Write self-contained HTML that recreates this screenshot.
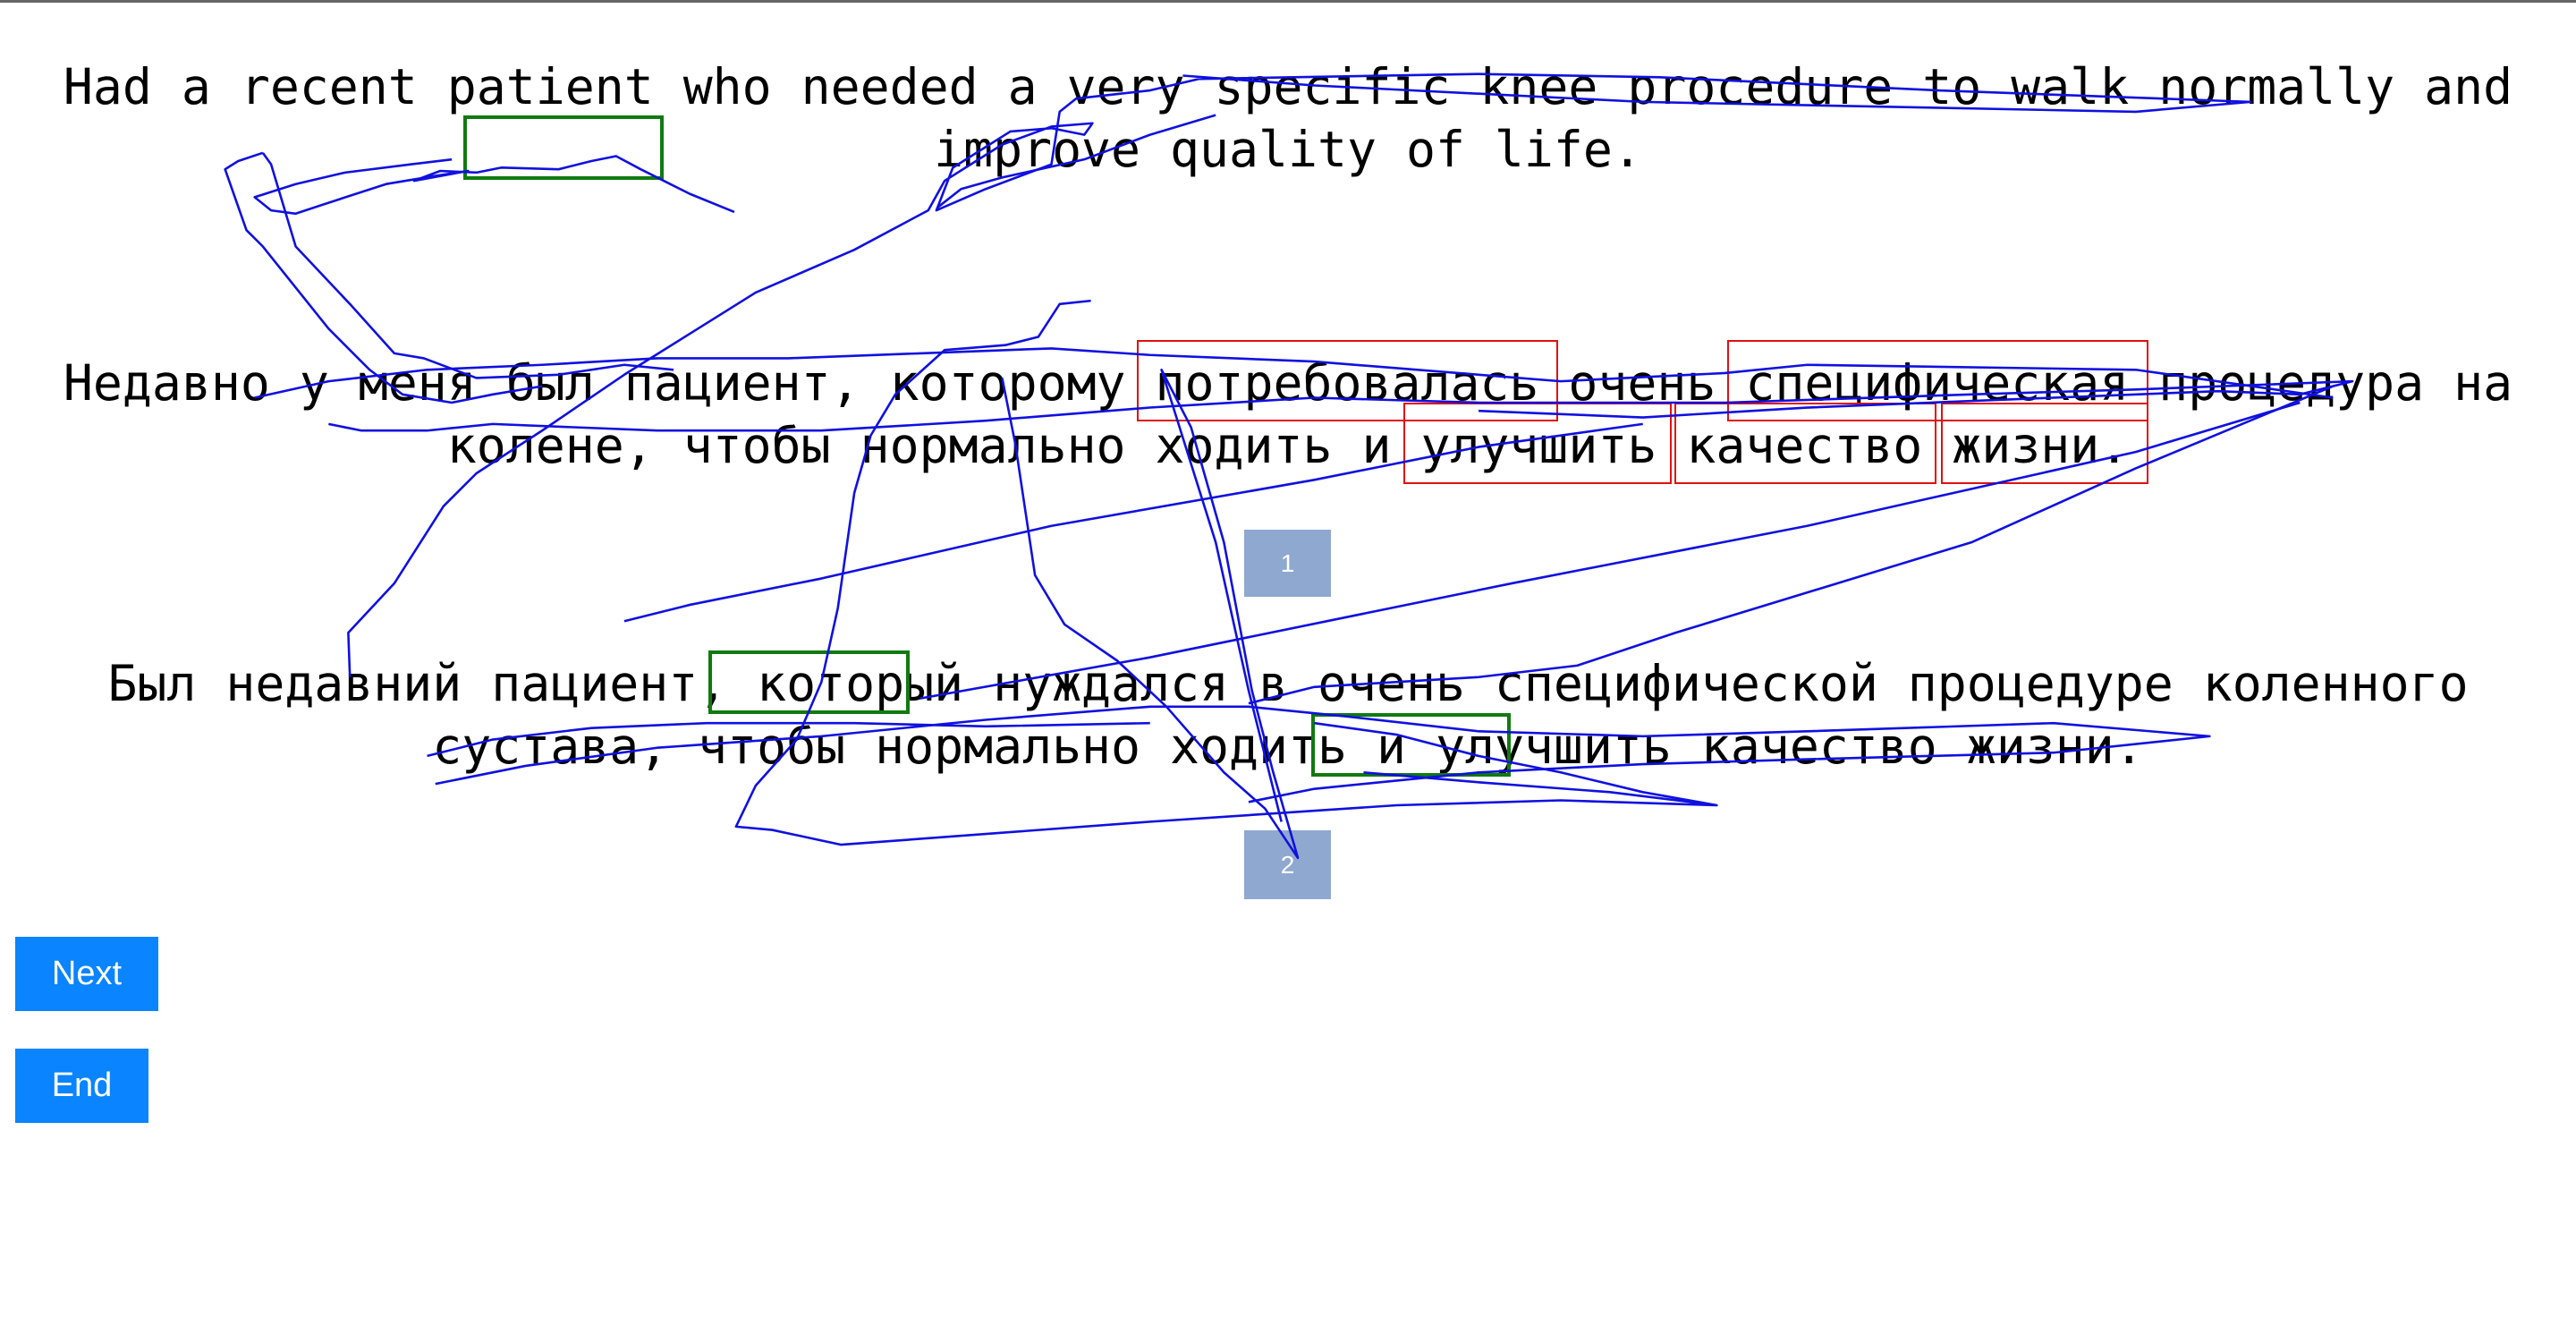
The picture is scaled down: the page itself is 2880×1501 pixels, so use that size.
<!DOCTYPE html>
<html><head><meta charset="utf-8"><style>
html,body{margin:0;padding:0;background:#fff;}
body{width:2880px;height:1501px;position:relative;overflow:hidden;}
.top{position:absolute;left:0;top:0;width:2880px;height:3px;background:#666;}
.t{position:absolute;left:0;width:2880px;text-align:center;font-family:"DejaVu Sans Mono","Liberation Mono",monospace;font-size:54.8px;color:#000;white-space:pre;line-height:70px;}
.b{position:absolute;box-sizing:border-box;}
.g{border:4px solid #107a10;}
.r{border:2.5px solid #e01010;}
.sq{position:absolute;background:#8fa8d0;color:#fff;font-family:"Liberation Sans",sans-serif;font-size:28px;text-align:center;}
.btn{position:absolute;background:#0a84ff;color:#fff;font-family:"Liberation Sans",sans-serif;font-size:38px;text-align:center;}
svg{position:absolute;left:0;top:0;}
</style></head><body>
<div class="top"></div>
<div class="t" style="top:62px">Had a recent patient who needed a very specific knee procedure to walk normally and</div>
<div class="t" style="top:132px">improve quality of life.</div>
<div class="t" style="top:393px">Недавно у меня был пациент, которому потребовалась очень специфическая процедура на</div>
<div class="t" style="top:463px">колене, чтобы нормально ходить и улучшить качество жизни.</div>
<div class="t" style="top:729px">Был недавний пациент, который нуждался в очень специфической процедуре коленного</div>
<div class="t" style="top:799px">сустава, чтобы нормально ходить и улучшить качество жизни.</div>

<div class="b g" style="left:518px;top:129px;width:224px;height:72px"></div>
<div class="b g" style="left:792px;top:727px;width:225px;height:71px"></div>
<div class="b g" style="left:1466px;top:797px;width:223px;height:71px"></div>
<div class="b r" style="left:1271px;top:380px;width:471px;height:91px"></div>
<div class="b r" style="left:1931px;top:380px;width:471px;height:91px"></div>
<div class="b r" style="left:1569px;top:450px;width:300px;height:91px"></div>
<div class="b r" style="left:1872px;top:450px;width:293px;height:91px"></div>
<div class="b r" style="left:2170px;top:450px;width:232px;height:91px"></div>

<div class="sq" style="left:1391px;top:592px;width:97px;height:75px;line-height:75px">1</div>
<div class="sq" style="left:1391px;top:928px;width:97px;height:77px;line-height:77px">2</div>

<div class="btn" style="left:17px;top:1047px;width:160px;height:83px;line-height:83px">Next</div>
<div class="btn" style="left:17px;top:1172px;width:149px;height:83px;line-height:83px">End</div>

<svg width="2880" height="1501" viewBox="0 0 1568 817.2" preserveAspectRatio="none">
<g fill="none" stroke="#1010e0" stroke-width="2.6" stroke-linejoin="round">
<path vector-effect="non-scaling-stroke" d="M447,129 L420,118 L404,110 L390,103 L375,95 L360,98 L340,103 L305,102 L290,105 L268,104 L252,110 L285,104 L265,107 L235,112 L195,125 L180,130 L165,128 L155,120 L180,112 L210,105 L250,100 L275,97"/>
<path vector-effect="non-scaling-stroke" d="M160,93 L145,98 L137,103 L150,140 L160,150 L200,200 L225,225 L245,240 L275,245 L300,240 L330,235"/>
<path vector-effect="non-scaling-stroke" d="M160,93 L165,100 L180,150 L213,185 L240,215 L258,218 L290,230 L340,228 L380,222 L410,225"/>
<path vector-effect="non-scaling-stroke" d="M213,412 L212,385 L240,355 L270,308 L290,288 L330,262 L380,228 L460,178 L520,152 L565,128 L575,110 L610,88 L640,77 L665,75 L660,82 L640,78 L615,80 L580,102 L570,128 L600,115 L640,100 L645,68 L655,60 L700,55 L730,48 L900,45 L1010,47 L1180,55 L1370,62 L1300,68 L1000,62 L800,52 L720,46"/>
<path vector-effect="non-scaling-stroke" d="M571,126 L585,115 L610,108 L660,97 L700,82 L740,70"/>
<path vector-effect="non-scaling-stroke" d="M664,183 L645,185 L632,205 L612,210 L575,213 L545,240 L530,265 L520,300 L510,370 L500,415 L485,450 L460,478 L448,503 L470,505 L512,514 L700,500 L850,490 L950,487 L1045,490 L980,482 L900,476 L830,470"/>
<path vector-effect="non-scaling-stroke" d="M610,230 L618,270 L630,350 L648,380 L680,402 L710,430 L745,470 L770,492 L790,522 L775,470 L762,420 L745,330 L725,260 L707,225 L740,330 L760,420 L780,500"/>
<path vector-effect="non-scaling-stroke" d="M200,258 L220,262 L260,262 L300,258 L400,262 L500,262 L600,256 L700,248 L800,242 L900,245 L1050,245 L1200,240 L1300,237 L1432,232 L1400,240 L1350,238 L1250,242 L1100,248 L1000,254 L900,250"/>
<path vector-effect="non-scaling-stroke" d="M155,242 L200,232 L260,225 L330,222 L400,218 L480,218 L560,215 L640,212 L700,216 L800,220 L900,228 L950,232 L1050,227 L1100,222 L1300,225 L1420,242"/>
<path vector-effect="non-scaling-stroke" d="M380,378 L420,368 L500,352 L640,320 L800,292 L900,272 L1000,258"/>
<path vector-effect="non-scaling-stroke" d="M1420,235 L1300,285 L1200,330 L1020,385 L960,405 L900,412 L800,418 L760,428"/>
<path vector-effect="non-scaling-stroke" d="M265,477 L320,466 L400,455 L500,448 L600,438 L700,430 L760,430 L820,436 L900,445 L1000,448 L1100,445 L1250,440 L1345,448 L1250,458 L1100,462 L1000,465 L900,470 L800,480 L760,488"/>
<path vector-effect="non-scaling-stroke" d="M260,460 L300,450 L360,443 L430,440 L520,440 L600,442 L700,440"/>
<path vector-effect="non-scaling-stroke" d="M800,440 L850,447 L900,460 L950,470 L1000,482 L1045,490"/>
<path vector-effect="non-scaling-stroke" d="M1400,245 L1300,275 L1100,320 L920,355 L700,400 L560,425"/>
</g>
</svg>
</body></html>
